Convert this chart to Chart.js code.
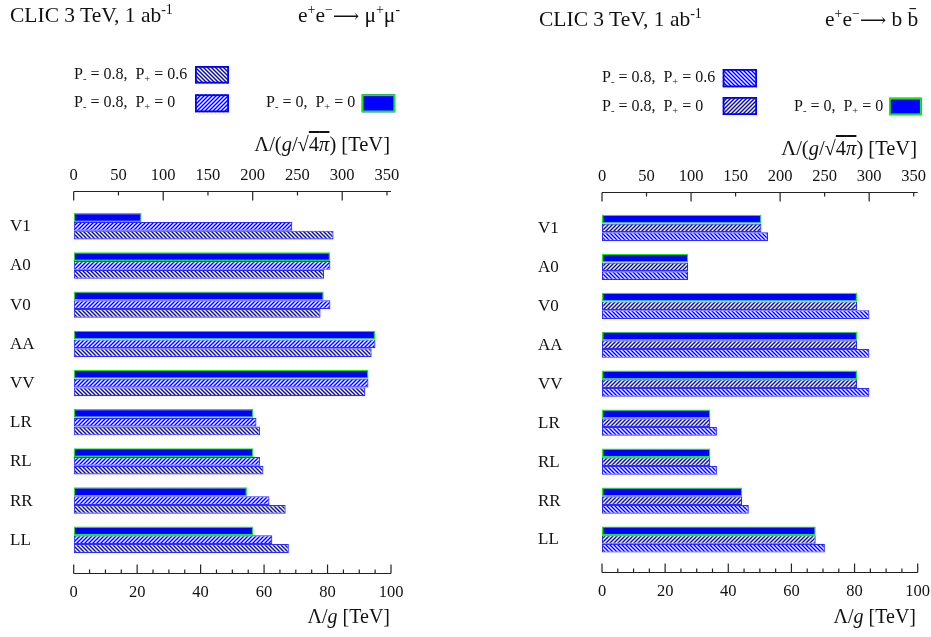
<!DOCTYPE html>
<html>
<head>
<meta charset="utf-8">
<script src="https://cdn.jsdelivr.net/npm/chart.js@4.4.1/dist/chart.umd.min.js"></script>
<style>
  html, body { margin:0; padding:0; background:#fff; }
  body { width:931px; height:637px; position:relative; overflow:hidden; font-family:"Liberation Serif","DejaVu Serif",serif; color:#111; }
  canvas { position:absolute; top:0; }
  .t { position:absolute; white-space:nowrap; line-height:1; }
  .sup { font-size:65%; position:relative; top:-0.55em; }
  .sub { font-size:65%; position:relative; top:0.3em; }
  .ov { text-decoration:overline; }
  .arr { font-family:"DejaVu Serif","DejaVu Sans",serif; font-size:85%; }
</style>
</head>
<body>
<canvas id="cL" width="465" height="637" style="left:0"></canvas>
<canvas id="cR" width="466" height="637" style="left:465px"></canvas>

<div class="t" style="left:10px;top:5px;font-size:21.5px">CLIC 3 TeV, 1 ab<span class="sup">-1</span></div>
<div class="t" style="left:298px;top:5px;font-size:21.5px">e<span class="sup">+</span>e<span class="sup">−</span><span class="arr">⟶</span> μ<span class="sup">+</span>μ<span class="sup">-</span></div>
<div class="t" style="left:74px;top:65.6px;font-size:16px">P<span class="sub">-</span> = 0.8,&nbsp; P<span class="sub">+</span> = 0.6</div>
<div class="t" style="left:74px;top:94.3px;font-size:16px">P<span class="sub">-</span> = 0.8,&nbsp; P<span class="sub">+</span> = 0</div>
<div class="t" style="left:266px;top:94.3px;font-size:16px">P<span class="sub">-</span> = 0,&nbsp; P<span class="sub">+</span> = 0</div>
<div class="t" style="right:541px;top:134px;font-size:20.5px">Λ/(<i>g</i>/√<span class="ov">4<i>π</i></span>) [TeV]</div>
<div class="t" style="right:541px;top:606px;font-size:20px">Λ/<i>g</i> [TeV]</div>

<div class="t" style="left:539px;top:8.5px;font-size:21.5px">CLIC 3 TeV, 1 ab<span class="sup">-1</span></div>
<div class="t" style="left:825px;top:8.5px;font-size:21.5px">e<span class="sup">+</span>e<span class="sup">−</span><span class="arr">⟶</span> b b̄</div>
<div class="t" style="left:602px;top:68.9px;font-size:16px">P<span class="sub">-</span> = 0.8,&nbsp; P<span class="sub">+</span> = 0.6</div>
<div class="t" style="left:602px;top:97.6px;font-size:16px">P<span class="sub">-</span> = 0.8,&nbsp; P<span class="sub">+</span> = 0</div>
<div class="t" style="left:794px;top:97.6px;font-size:16px">P<span class="sub">-</span> = 0,&nbsp; P<span class="sub">+</span> = 0</div>
<div class="t" style="right:14px;top:138px;font-size:20.5px">Λ/(<i>g</i>/√<span class="ov">4<i>π</i></span>) [TeV]</div>
<div class="t" style="right:15px;top:606px;font-size:20px">Λ/<i>g</i> [TeV]</div>

<script>
// ---- data ----
const categories = ['V1','A0','V0','AA','VV','LR','RL','RR','LL'];
const mumuUnpol   = [21.4, 80.8, 78.8, 95.0, 92.9, 56.6, 56.6, 54.6, 56.6];
const mumuPol80   = [68.9, 80.9, 80.9, 95.1, 92.9, 57.6, 58.7, 61.7, 62.6];
const mumuPol8060 = [81.9, 78.9, 77.8, 93.9, 91.9, 58.7, 59.8, 66.8, 67.8];
const bbUnpol     = [50.5, 27.3, 80.8, 80.8, 80.8, 34.3, 34.3, 44.4, 67.7];
const bbPol80     = [50.5, 27.3, 80.8, 80.8, 80.8, 34.3, 34.3, 44.4, 67.7];
const bbPol8060   = [52.6, 27.3, 84.7, 84.7, 84.7, 36.4, 36.4, 46.5, 70.6];
const bottomTicks = [0, 20, 40, 60, 80, 100];
const topTicks    = [0, 50, 100, 150, 200, 250, 300, 350];
const bottomMinorStep = 5;
const bottomMajorStep = 20;
const topMajorStep = 100;
const seriesLabels = ['P- = 0, P+ = 0', 'P- = 0.8, P+ = 0', 'P- = 0.8, P+ = 0.6'];

const BLUE = '#0000ff';
const GREEN = '#11ee11';

function hatch(ctx, dir) {
  const c = document.createElement('canvas');
  c.width = 4; c.height = 4;
  const g = c.getContext('2d');
  g.fillStyle = '#fff'; g.fillRect(0,0,4,4);
  g.strokeStyle = '#0000ff'; g.lineWidth = 1.45;
  g.beginPath();
  if (dir > 0) {
    g.moveTo(-1,5); g.lineTo(5,-1);
    g.moveTo(-3,3); g.lineTo(3,-3);
    g.moveTo(1,7); g.lineTo(7,1);
  } else {
    g.moveTo(-1,-1); g.lineTo(5,5);
    g.moveTo(-3,1); g.lineTo(3,7);
    g.moveTo(1,-3); g.lineTo(7,3);
  }
  g.stroke();
  return ctx.createPattern(c, 'repeat');
}

const decoPlugin = {
  id: 'deco',
  afterDraw(chart, args, o) {
    const ctx = chart.ctx;
    const xs = chart.scales.x, x2 = chart.scales.x2, ys = chart.scales.y;
    const ca = chart.chartArea;
    ctx.save();
    ctx.strokeStyle = '#222';
    ctx.fillStyle = '#111';
    ctx.lineWidth = 1.2;
    // bottom axis
    const yb = Math.round(ca.bottom) + 0.5;
    ctx.beginPath();
    ctx.moveTo(xs.getPixelForValue(0), yb);
    ctx.lineTo(xs.getPixelForValue(100), yb);
    for (let v = 0; v <= 100; v += bottomMinorStep) {
      const px = xs.getPixelForValue(v);
      const len = (v % bottomMajorStep === 0) ? 9 : 4;
      ctx.moveTo(px, yb); ctx.lineTo(px, yb - len);
    }
    // top axis
    const yt = Math.round(ca.top) + 0.5;
    ctx.moveTo(ca.left, yt);
    ctx.lineTo(ca.right, yt);
    topTicks.forEach(v => {
      const px = x2.getPixelForValue(v);
      const len = (v % topMajorStep === 0) ? 9 : 4;
      ctx.moveTo(px, yt); ctx.lineTo(px, yt + len);
    });
    ctx.stroke();
    ctx.font = '16.5px "Liberation Serif"';
    ctx.textAlign = 'center';
    ctx.textBaseline = 'middle';
    bottomTicks.forEach(v => ctx.fillText(String(v), xs.getPixelForValue(v), ca.bottom + 19.5));
    topTicks.forEach(v => ctx.fillText(String(v), x2.getPixelForValue(v), ca.top - 15));
    // category labels
    ctx.font = '17px "Liberation Serif"';
    ctx.textAlign = 'left';
    categories.forEach((c, i) => ctx.fillText(c, o.catX, ys.getPixelForValue(i) + 0.5));
    // legend swatches
    const sw = o.swatches;
    const drawSw = (r, fill, stroke) => {
      ctx.fillStyle = fill;
      ctx.fillRect(r[0], r[1], r[2], r[3]);
      ctx.strokeStyle = stroke; ctx.lineWidth = 1.8;
      ctx.strokeRect(r[0] + 0.9, r[1] + 0.9, r[2] - 1.8, r[3] - 1.8);
    };
    drawSw(sw[0], o.patBack, BLUE);
    drawSw(sw[1], o.patFwd, BLUE);
    drawSw(sw[2], BLUE, GREEN);
    ctx.restore();
  }
};

function makeChart(id, unpol, pol80, pol8060, geo) {
  const canvas = document.getElementById(id);
  const ctx = canvas.getContext('2d');
  const patFwd = hatch(ctx, 1);
  const patBack = hatch(ctx, -1);
  const mk = arr => arr.map((v, i) => ({ x: v, y: i }));
  return new Chart(ctx, {
    type: 'bar',
    data: {
      datasets: [
        { label: seriesLabels[0], data: mk(unpol), backgroundColor: BLUE, borderColor: GREEN, borderWidth: 1.2, borderSkipped: false },
        { label: seriesLabels[1], data: mk(pol80), backgroundColor: patFwd, borderColor: 'rgba(20,20,255,0.9)', borderWidth: 1.2, borderSkipped: false },
        { label: seriesLabels[2], data: mk(pol8060), backgroundColor: patBack, borderColor: 'rgba(20,20,255,0.9)', borderWidth: 1.2, borderSkipped: false }
      ]
    },
    options: {
      indexAxis: 'y',
      responsive: false,
      animation: false,
      events: [],
      layout: { padding: geo.padding },
      datasets: { bar: { categoryPercentage: geo.catPct, barPercentage: 1 } },
      plugins: {
        legend: { display: false },
        tooltip: { enabled: false },
        deco: { catX: geo.catX, swatches: geo.swatches, patFwd, patBack }
      },
      scales: {
        x: { type: 'linear', position: 'bottom', min: 0, max: 100, display: false },
        x2: { type: 'linear', position: 'top', min: 0, max: 100 * Math.sqrt(4 * Math.PI), display: false },
        y: {
          type: 'linear', min: geo.yMin, max: geo.yMax, reverse: true, offset: false, display: false,
          afterBuildTicks: scale => { scale.ticks = categories.map((c, i) => ({ value: i })); }
        }
      }
    },
    plugins: [decoPlugin]
  });
}

makeChart('cL', mumuUnpol, mumuPol80, mumuPol8060, {
  padding: { left: 73.7, right: 74, top: 190.7, bottom: 64.3 },
  yMin: -0.908, yMax: 8.842, catPct: 0.673, catX: 10,
  swatches: [[195, 66, 34, 17.5], [195, 94.3, 34, 18], [361.7, 94.3, 33.5, 18]]
});
makeChart('cR', bbUnpol, bbPol80, bbPol8060, {
  padding: { left: 137, right: 13.3, top: 191.7, bottom: 64.7 },
  yMin: -0.929, yMax: 8.842, catPct: 0.673, catX: 73,
  swatches: [[257.7, 69, 34.3, 18.3], [257.7, 97, 34.3, 18], [424, 97.7, 32.7, 17.5]]
});
</script>
</body>
</html>
